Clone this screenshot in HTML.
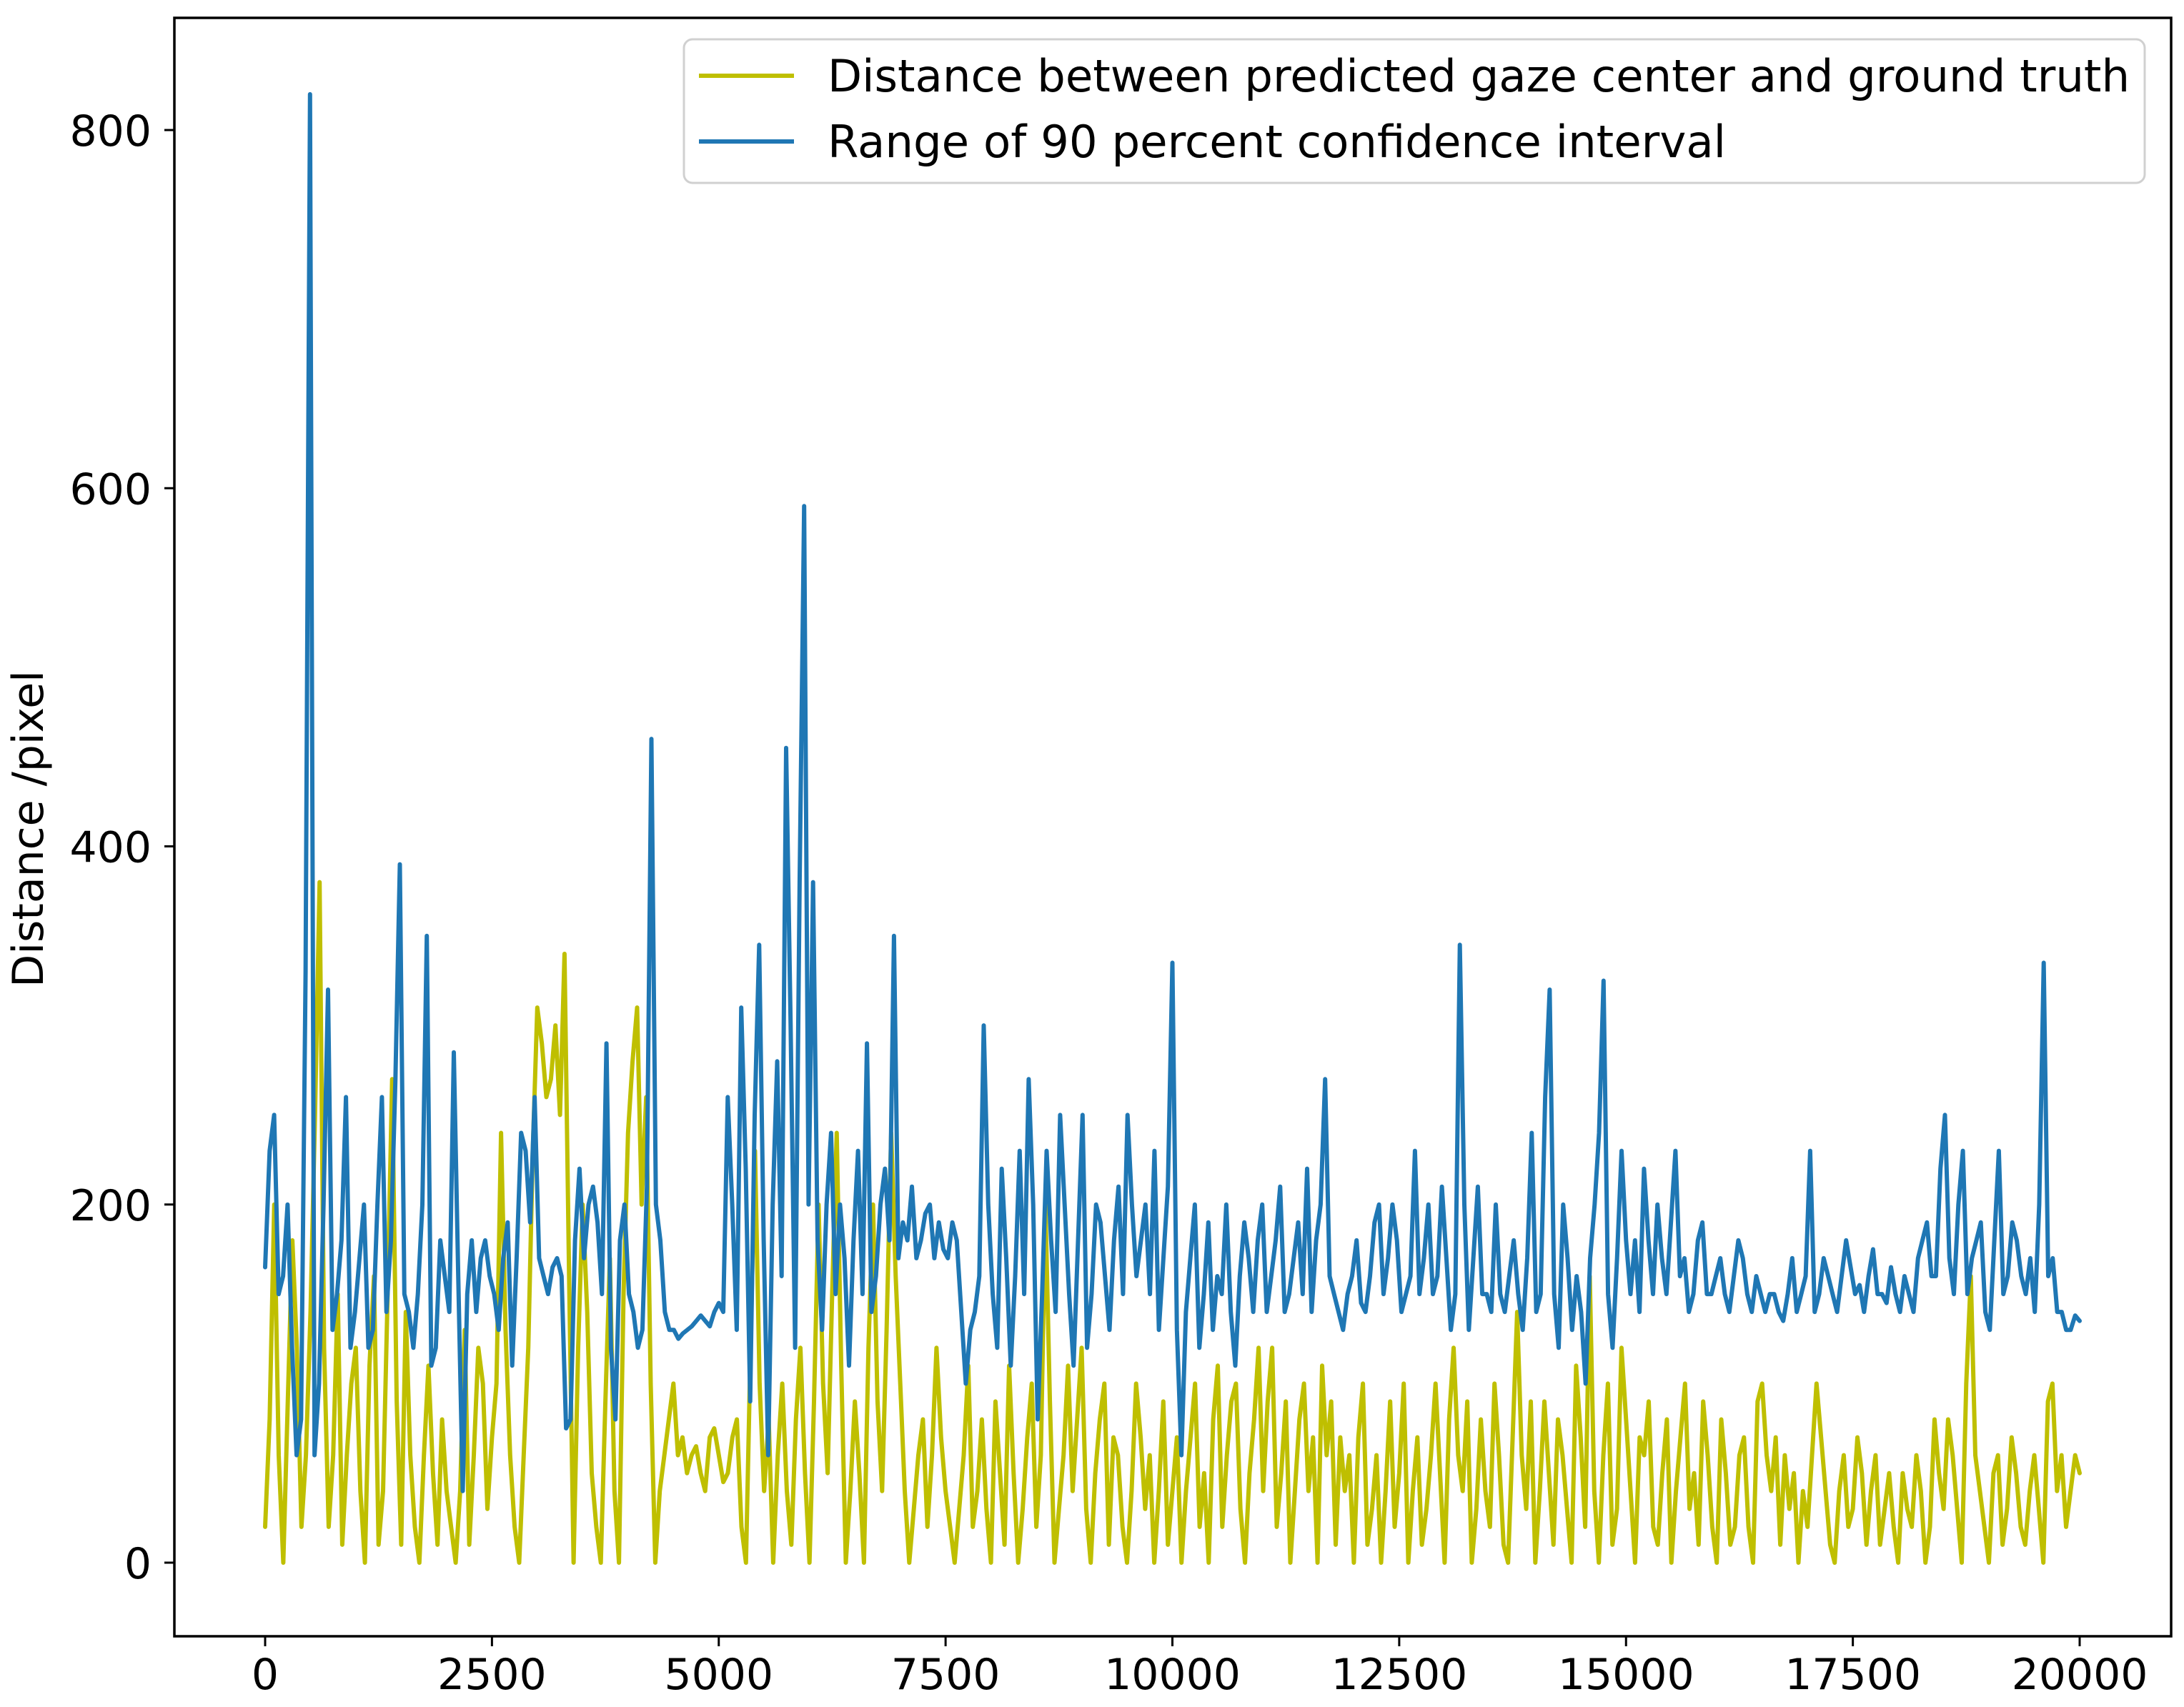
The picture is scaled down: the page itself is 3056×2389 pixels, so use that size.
<!DOCTYPE html>
<html><head><meta charset="utf-8"><style>
html,body{margin:0;padding:0;background:#fff;}
svg{display:block;font-family:"DejaVu Sans","Liberation Sans",sans-serif;}
</style></head><body>
<svg id="chart" width="3056" height="2389" viewBox="0 0 3056 2389" xmlns="http://www.w3.org/2000/svg">
<rect width="3056" height="2389" fill="#fff"/>
<g id="ticks"></g>
<g id="series"></g>
<rect x="244" y="25" width="2794" height="2265" fill="none" stroke="#000" stroke-width="3.5"/>
<text x="60" y="1160" font-size="60" text-anchor="middle" transform="rotate(-90 60 1160)">Distance /pixel</text>
<g>
<rect x="957" y="55" width="2044" height="201" rx="12" fill="#fff" fill-opacity="0.85" stroke="#d0d0d0" stroke-width="3"/>
<line x1="978" y1="106" x2="1111" y2="106" stroke="#bfbf00" stroke-width="6"/>
<text x="1158" y="128" font-size="62.5">Distance between predicted gaze center and ground truth</text>
<line x1="978" y1="198" x2="1111" y2="198" stroke="#1f77b4" stroke-width="6"/>
<text x="1158" y="220" font-size="62.5">Range of 90 percent confidence interval</text>
</g>
</svg>
<script>
const xMax = 20000;
const yellowValues = [20,80,200,60,0,90,180,120,20,60,140,250,380,120,20,60,150,10,60,100,120,40,0,110,160,10,40,150,270,90,10,140,60,20,0,60,110,50,10,80,40,20,0,40,130,10,60,120,100,30,70,100,240,130,60,20,0,60,120,230,310,290,260,270,300,250,340,160,0,120,200,140,50,20,0,90,170,40,0,150,240,280,310,200,260,100,0,40,60,80,100,60,70,50,60,65,50,40,70,75,60,45,50,70,80,20,0,120,230,100,40,80,0,60,100,40,10,80,120,50,0,90,200,100,50,150,240,110,0,40,90,50,0,120,200,90,40,130,240,160,100,40,0,30,60,80,20,60,120,70,40,20,0,30,60,110,20,40,80,30,0,90,50,10,110,50,0,30,70,100,20,60,200,90,0,30,60,110,40,80,120,30,0,50,80,100,10,70,60,20,0,40,100,70,30,60,0,40,90,10,40,70,0,40,70,100,20,50,0,80,110,20,60,90,100,30,0,50,80,120,40,90,120,20,50,90,0,40,80,100,40,70,0,110,60,90,10,70,40,60,0,70,100,10,30,60,0,40,90,20,50,100,0,40,70,10,30,60,100,50,0,80,120,60,40,90,0,30,80,40,20,100,60,10,0,70,140,60,30,90,0,40,90,50,10,80,60,30,0,110,70,20,160,40,0,60,100,10,30,120,80,40,0,70,60,90,20,10,50,80,0,40,70,100,30,50,10,90,60,20,0,80,50,10,20,60,70,20,0,90,100,60,40,70,10,60,30,50,0,40,20,60,100,70,40,10,0,40,60,20,30,70,50,10,40,60,10,30,50,20,0,50,30,20,60,40,0,20,80,50,30,80,60,30,0,100,160,60,40,20,0,50,60,10,30,70,50,20,10,40,60,30,0,90,100,40,60,20,40,60,50];
const blueValues = [165,230,250,150,160,200,120,60,80,330,820,60,100,200,320,130,150,180,260,120,140,170,200,120,130,200,260,140,180,270,390,150,140,120,150,200,350,110,120,180,160,140,285,160,40,150,180,140,170,180,160,150,130,170,190,110,170,240,230,190,260,170,160,150,165,170,160,75,80,180,220,170,200,210,190,150,290,120,80,180,200,150,140,120,130,210,460,200,180,140,130,130,125,128,130,132,135,138,135,132,140,145,140,260,200,130,310,220,90,250,345,180,60,200,280,160,455,300,120,380,590,200,380,180,130,200,240,150,200,170,110,180,230,150,290,140,160,200,220,180,350,170,190,180,210,170,180,195,200,170,190,175,170,190,180,140,100,130,140,160,300,200,150,120,220,170,110,160,230,150,270,200,80,150,230,180,140,250,200,150,110,180,250,120,150,200,190,160,130,180,210,150,250,200,160,180,200,150,230,130,170,210,335,130,60,140,170,200,120,150,190,130,160,150,200,140,110,160,190,170,140,180,200,140,160,180,210,140,150,170,190,150,220,140,180,200,270,160,150,140,130,150,160,180,145,140,160,190,200,150,170,200,180,140,150,160,230,150,170,200,150,160,210,170,130,150,345,200,130,170,210,150,150,140,200,150,140,160,180,150,130,170,240,140,150,260,320,150,120,200,170,130,160,140,100,170,200,240,325,150,120,170,230,180,150,180,140,220,180,150,200,170,150,190,230,160,170,140,150,180,190,150,150,160,170,150,140,160,180,170,150,140,160,150,140,150,150,140,135,150,170,140,150,160,230,140,150,170,160,150,140,160,180,165,150,155,140,160,175,150,150,145,165,150,140,160,150,140,170,180,190,160,160,220,250,170,150,200,230,150,170,180,190,140,130,180,230,150,160,190,180,160,150,170,140,200,335,160,170,140,140,130,130,138,135];
const xTicks = [0,2500,5000,7500,10000,12500,15000,17500,20000];
const yTicks = [0,200,400,600,800];
const NS='http://www.w3.org/2000/svg';
function xScale(v){return 371 + (v/20000)*(2910-371);}
function yScale(v){return 2187 - (v/800)*(2187-182);}
const tg=document.getElementById('ticks');
xTicks.forEach(function(t){
  const l=document.createElementNS(NS,'line');
  l.setAttribute('x1',xScale(t));l.setAttribute('x2',xScale(t));
  l.setAttribute('y1',2290);l.setAttribute('y2',2304);
  l.setAttribute('stroke','#000');l.setAttribute('stroke-width','3');
  
  
  tg.appendChild(l);
  const tx=document.createElementNS(NS,'text');
  tx.setAttribute('x',xScale(t));tx.setAttribute('y',2364);
  tx.setAttribute('font-size','60');tx.setAttribute('text-anchor','middle');
  tx.textContent=t;
  
  
  tg.appendChild(tx);
});
yTicks.forEach(function(t){
  const l=document.createElementNS(NS,'line');
  l.setAttribute('x1',230);l.setAttribute('x2',244);
  l.setAttribute('y1',yScale(t));l.setAttribute('y2',yScale(t));
  l.setAttribute('stroke','#000');l.setAttribute('stroke-width','3');
  
  
  tg.appendChild(l);
  const tx=document.createElementNS(NS,'text');
  tx.setAttribute('x',212);tx.setAttribute('y',yScale(t)+22);
  tx.setAttribute('font-size','60');tx.setAttribute('text-anchor','end');
  tx.textContent=t;
  
  
  tg.appendChild(tx);
});
const sg=document.getElementById('series');
function drawLine(vals,color){
  const step=xMax/(vals.length-1);
  const d=vals.map(function(v,i){return (i?'L':'M')+xScale(i*step).toFixed(1)+','+yScale(v).toFixed(1);}).join(' ');
  const p=document.createElementNS(NS,'path');
  p.setAttribute('d',d);p.setAttribute('fill','none');
  p.setAttribute('stroke',color);p.setAttribute('stroke-width','6');
  p.setAttribute('stroke-linejoin','round');p.setAttribute('stroke-linecap','round');
  sg.appendChild(p);
  return p;
}
const py=drawLine(yellowValues,'#bfbf00');


const pb=drawLine(blueValues,'#1f77b4');


</script>
</body></html>
